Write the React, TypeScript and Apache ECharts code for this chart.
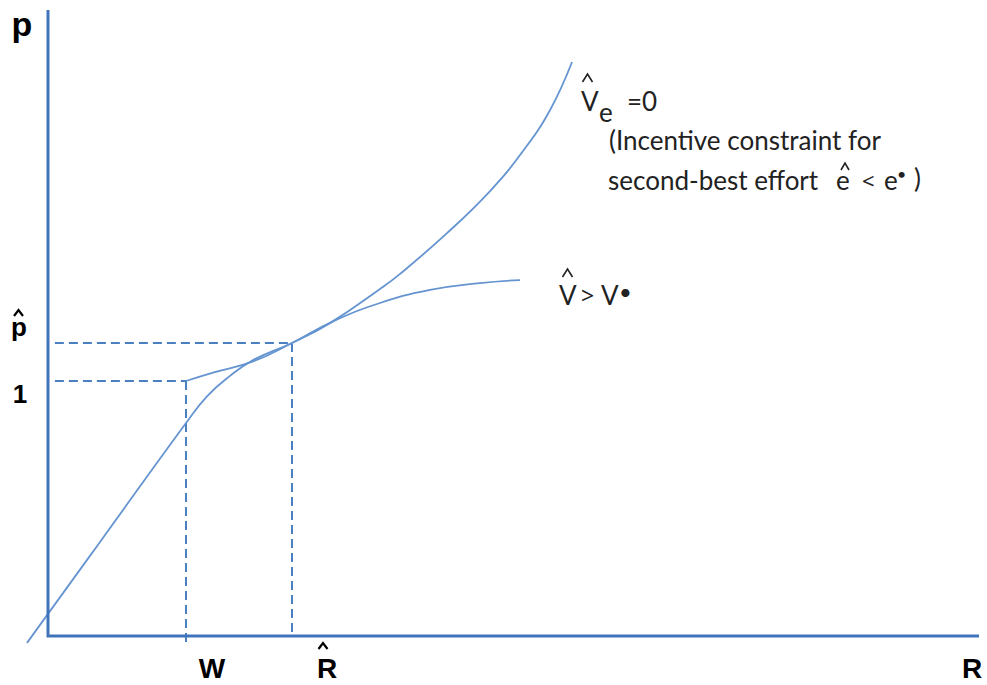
import React, { useEffect, useRef } from "react";
import * as echarts from "echarts";

// Data units: y = 1 at the "1" level, x = 1 at W
const X_MIN = -0.2;
const X_MAX = 6.746;
const Y_MIN = -0.04;
const Y_MAX = 2.455;

const W_VAL = 1;
const R_HAT = 1.768;
const ONE_VAL = 1;
const P_HAT = 1.149;

// Incentive constraint curve (V̂e = 0)
const icX = [-0.152, 0.377, 1.0, 1.152, 1.319, 1.486, 1.768, 2.043, 2.406, 2.551, 2.891, 3.203, 3.442, 3.638, 3.797];
const icY = [-0.027, 0.369, 0.835, 0.94, 1.02, 1.082, 1.149, 1.227, 1.361, 1.42, 1.58, 1.745, 1.902, 2.063, 2.251];

// Iso-value curve (V̂ > V*)
const ivX = [1.0, 1.196, 1.486, 1.768, 2.058, 2.406, 2.768, 3.13, 3.42];
const ivY = [1.0, 1.033, 1.077, 1.149, 1.232, 1.306, 1.357, 1.384, 1.396];

const AXIS_COLOR = "#3f74ba";
const CURVE_COLOR = "#6594d0";
const DASH_COLOR = "#4a7fc0";

export default function App() {
  const ref = useRef<HTMLDivElement>(null);
  useEffect(() => {
    document.body.style.margin = "0";
    if (!ref.current) return;
    const chart = echarts.init(ref.current, undefined, { renderer: "svg" });
    const zip = (xs: number[], ys: number[]) => xs.map((x, i) => [x, ys[i]]);
    const dashed = (pts: number[][]) => ({
      type: "line",
      data: pts,
      symbol: "none",
      lineStyle: { color: DASH_COLOR, width: 2, type: [9, 5] },
      silent: true,
    });
    const labelFont = "'Liberation Sans', Arial, sans-serif";
    const annFont = "Lato, 'Open Sans', sans-serif";
    const symFont = "'Noto Sans', 'DejaVu Sans', sans-serif";
    const boldText = (x: number, y: number, t: string, size = 28) => ({
      type: "text",
      x,
      y,
      style: { text: t, font: `bold ${size}px ${labelFont}`, fill: "#000", textAlign: "center", textVerticalAlign: "bottom" },
    });
    const annText = (x: number, y: number, t: string, size = 26, family = annFont) => ({
      type: "text",
      x,
      y,
      style: { text: t, font: `${size}px ${family}`, fill: "#222", textAlign: "left", textVerticalAlign: "middle" },
    });
    // circumflex accent drawn as a small caret
    const hat = (cx: number, bottom: number, w: number, h: number, color: string, lw: number) => ({
      type: "polyline",
      shape: { points: [[cx - w / 2, bottom], [cx, bottom - h], [cx + w / 2, bottom]] },
      style: { stroke: color, lineWidth: lw, fill: null, lineJoin: "miter" },
      silent: true,
    });
    chart.setOption({
      animation: false,
      backgroundColor: "#fff",
      grid: { left: 20.4, right: 8, top: 10, bottom: 38.8 },
      xAxis: {
        type: "value",
        min: X_MIN,
        max: X_MAX,
        axisLine: { show: false },
        axisTick: { show: false },
        axisLabel: { show: false },
        splitLine: { show: false },
      },
      yAxis: {
        type: "value",
        min: Y_MIN,
        max: Y_MAX,
        axisLine: { show: false },
        axisTick: { show: false },
        axisLabel: { show: false },
        splitLine: { show: false },
      },
      series: [
        dashed([[0.05, ONE_VAL], [W_VAL, ONE_VAL]]),
        dashed([[W_VAL, ONE_VAL], [W_VAL, -0.025]]),
        dashed([[0.05, P_HAT], [R_HAT, P_HAT]]),
        dashed([[R_HAT, P_HAT], [R_HAT, 0]]),
        {
          type: "line",
          data: zip(icX, icY),
          symbol: "none",
          smooth: 0.45,
          lineStyle: { color: CURVE_COLOR, width: 1.8 },
        },
        {
          type: "line",
          data: zip(ivX, ivY),
          symbol: "none",
          smooth: 0.45,
          lineStyle: { color: CURVE_COLOR, width: 1.8 },
        },
        {
          type: "line",
          data: [[0, Y_MAX], [0, 0], [X_MAX, 0]],
          symbol: "none",
          lineStyle: { color: AXIS_COLOR, width: 3, join: "miter", cap: "butt" },
          silent: true,
        },
      ],
      graphic: [
        // axis labels
        boldText(22, 41, "p", 34),
        boldText(19, 340, "p", 26),
        hat(18.5, 316, 9, 6, "#000", 2.2),
        boldText(20, 407, "1", 26),
        boldText(212, 682, "W"),
        boldText(327, 682, "R"),
        hat(323, 649, 9, 6, "#000", 2.2),
        boldText(972, 682, "R"),
        // V̂e = 0 annotation
        annText(581, 101, "V"),
        hat(587.5, 82, 10, 8, "#222", 1.6),
        annText(599, 112, "e"),
        annText(627, 101, "=0"),
        annText(609, 140, "(Incentive constraint for"),
        annText(608, 180, "second-best effort"),
        annText(836, 180, "e"),
        hat(845, 170, 8, 7, "#222", 1.6),
        annText(862, 180, "<", 22, symFont),
        annText(884, 180, "e"),
        annText(897, 173, "•", 16),
        annText(914, 178, ")"),
        // V̂ > V* annotation
        annText(559, 295, "V"),
        hat(567.5, 277, 10, 8, "#222", 1.6),
        annText(581, 295, ">", 23, symFont),
        annText(601, 295, "V"),
        annText(619, 291, "•", 22),
      ],
    });
    return () => chart.dispose();
  }, []);
  return <div ref={ref} style={{ width: 987, height: 685 }} />;
}
